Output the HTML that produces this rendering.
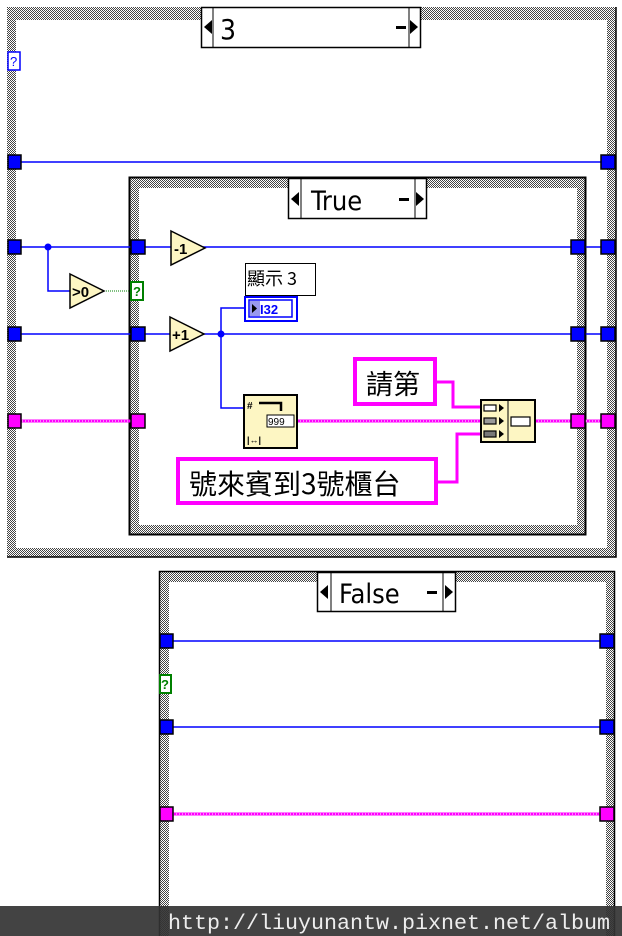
<!DOCTYPE html>
<html><head><meta charset="utf-8"><style>
html,body{margin:0;padding:0;background:#fff;width:622px;height:936px;overflow:hidden}
svg{display:block}
</style></head><body>
<svg width="622" height="936" viewBox="0 0 622 936" xmlns="http://www.w3.org/2000/svg" font-family="Liberation Sans, Noto Sans CJK TC, sans-serif">
<defs>
<pattern id="h" width="2" height="2" patternUnits="userSpaceOnUse">
<rect width="2" height="2" fill="#fff"/><rect width="1" height="1" fill="#444"/><rect x="1" y="1" width="1" height="1" fill="#444"/>
</pattern>
</defs>

<path d="M7 7H616V557H7Z M16 20V548H607V20Z" fill="url(#h)" fill-rule="evenodd"/>
<path d="M616 7V557H7" fill="none" stroke="#000" stroke-width="1.5"/>
<rect x="201.5" y="7.5" width="219" height="40" fill="#fff" stroke="#000" stroke-width="1.5"/>
<line x1="213" y1="8" x2="213" y2="47" stroke="#000"/><line x1="409" y1="8" x2="409" y2="47" stroke="#000"/>
<polygon points="204,27 212,20 212,34" fill="#000"/><polygon points="418,27 410,20 410,34" fill="#000"/>
<rect x="396" y="26" width="10" height="3" fill="#000"/>
<text x="220" y="39" font-size="28" style="font-family:'DejaVu Sans Condensed','DejaVu Sans',sans-serif">3</text>
<rect x="8" y="52" width="12" height="18" fill="#fff" stroke="#0000ff" stroke-width="1.5"/>
<text x="10" y="66" font-size="13" fill="#0000ff">?</text>

<path d="M129 177H586V535H129Z M139 188V525H577V188Z" fill="url(#h)" fill-rule="evenodd"/>
<rect x="129.5" y="177.5" width="456" height="357" fill="none" stroke="#000" stroke-width="2"/>
<rect x="288.5" y="178.5" width="138" height="40" fill="#fff" stroke="#000" stroke-width="1.5"/>
<line x1="301" y1="179" x2="301" y2="218" stroke="#000"/><line x1="415" y1="179" x2="415" y2="218" stroke="#000"/>
<polygon points="291,199 299,192 299,206" fill="#000"/><polygon points="424,199 416,192 416,206" fill="#000"/>
<rect x="399" y="198" width="10" height="3" fill="#000"/>
<text x="311" y="210" font-size="27" style="font-family:'DejaVu Sans Condensed','DejaVu Sans',sans-serif">True</text>

<g stroke="#0000ff" stroke-width="1.5" fill="none">
<line x1="16" y1="162" x2="607" y2="162"/>
<line x1="16" y1="247" x2="607" y2="247"/>
<line x1="16" y1="334" x2="607" y2="334"/>
<path d="M48 247V291H70"/>
<path d="M221 334V308H245"/>
<path d="M221 334V408H244"/>
</g>
<circle cx="48" cy="247" r="3.5" fill="#0000ff"/>
<circle cx="221" cy="334" r="3.5" fill="#0000ff"/>
<line x1="104" y1="291" x2="131" y2="291" stroke="#008000" stroke-width="1" stroke-dasharray="1,1"/>

<g stroke="#ff00ff" stroke-width="3" fill="none">
<line x1="16" y1="421" x2="131" y2="421"/>
<line x1="297" y1="421" x2="480" y2="421"/>
<line x1="535" y1="421" x2="607" y2="421"/>
<path d="M436 382H453V407H480"/>
<path d="M437 482H457V434H480"/>
</g>
<g stroke="#fff" stroke-width="1" fill="none" stroke-dasharray="1,2">
<line x1="16" y1="421" x2="131" y2="421"/>
<line x1="297" y1="421" x2="480" y2="421"/>
<line x1="535" y1="421" x2="607" y2="421"/>
</g>

<g stroke="#000" stroke-width="1.5">
<rect x="8" y="155" width="13" height="14" fill="#0000ff"/>
<rect x="601" y="155" width="14" height="14" fill="#0000ff"/>
<rect x="8" y="240" width="13" height="14" fill="#0000ff"/>
<rect x="601" y="240" width="14" height="14" fill="#0000ff"/>
<rect x="8" y="327" width="13" height="14" fill="#0000ff"/>
<rect x="601" y="327" width="14" height="14" fill="#0000ff"/>
<rect x="8" y="414" width="13" height="14" fill="#ff00ff"/>
<rect x="601" y="414" width="14" height="14" fill="#ff00ff"/>
<rect x="131" y="240" width="14" height="14" fill="#0000ff"/>
<rect x="571" y="240" width="14" height="14" fill="#0000ff"/>
<rect x="131" y="327" width="14" height="14" fill="#0000ff"/>
<rect x="571" y="327" width="14" height="14" fill="#0000ff"/>
<rect x="131" y="414" width="14" height="14" fill="#ff00ff"/>
<rect x="571" y="414" width="14" height="14" fill="#ff00ff"/>
</g>
<rect x="131" y="282" width="12" height="18" fill="#fff" stroke="#008000" stroke-width="2"/>
<text x="133" y="296" font-size="13" fill="#008000" font-weight="bold">?</text>

<g fill="#fdf6c3" stroke="#000" stroke-width="1.5">
<polygon points="70,274 104,291 70,308"/>
<polygon points="171,231 205,248 171,265"/>
<polygon points="170,317 204,334 170,351"/>
</g>
<text x="72" y="297" font-size="15" font-weight="bold">&gt;0</text>
<text x="174" y="254" font-size="15" font-weight="bold">-1</text>
<text x="172" y="340" font-size="15" font-weight="bold">+1</text>

<rect x="245.5" y="263.5" width="70" height="32" fill="#fff" stroke="#000" stroke-width="1"/>
<text x="247" y="285" font-size="18" style="font-family:'Noto Sans CJK TC',sans-serif">顯示 3</text>
<rect x="245" y="297" width="52" height="24" fill="#fff" stroke="#0000ff" stroke-width="2"/>
<rect x="249" y="300" width="43" height="17" fill="none" stroke="#0000ff" stroke-width="1.5"/>
<rect x="250" y="301" width="10" height="15" fill="#9999ee"/>
<polygon points="252,304 257,308.5 252,313" fill="#000"/>
<text x="260" y="314" font-size="13" font-weight="bold" fill="#0000ff">I32</text>

<rect x="244" y="395" width="53" height="53" fill="#fdf6c3" stroke="#000" stroke-width="2"/>
<text x="247" y="409" font-size="10" font-weight="bold">#</text>
<path d="M259 403H281V411" stroke="#000" stroke-width="2.5" fill="none"/>
<rect x="267" y="415" width="27" height="12" fill="#fff" stroke="#000"/>
<text x="268" y="425" font-size="10">999</text>
<text x="247" y="443" font-size="9" font-weight="bold">|↔|</text>

<rect x="355" y="359" width="80" height="45" fill="#fff" stroke="#ff00ff" stroke-width="4"/>
<text x="366" y="394" font-size="27" style="font-family:'Noto Sans CJK TC',sans-serif">請第</text>
<rect x="178" y="459" width="258" height="44" fill="#fff" stroke="#ff00ff" stroke-width="4"/>
<text x="189" y="494" font-size="28" style="font-family:'Noto Sans CJK TC',sans-serif">號來賓到3號櫃台</text>

<rect x="481" y="400" width="54" height="42" fill="#fdf6c3" stroke="#000" stroke-width="2"/>
<line x1="508" y1="401" x2="508" y2="441" stroke="#000"/>
<g stroke="#000" stroke-width="1.2">
<rect x="484" y="405" width="12" height="6" fill="#fff"/>
<rect x="484" y="418" width="12" height="6" fill="#999"/>
<rect x="484" y="431" width="12" height="6" fill="#777"/>
<rect x="511" y="417" width="19" height="9" fill="#fff"/>
</g>
<g fill="#000"><polygon points="499,404 504,408 499,412"/><polygon points="499,417 504,421 499,425"/><polygon points="499,430 504,434 499,438"/></g>

<path d="M159 571H614V936H159Z M169 582V936H606V582Z" fill="url(#h)" fill-rule="evenodd"/>
<path d="M159.5 936V571.5H614.5V936" fill="none" stroke="#000" stroke-width="1.5"/>
<rect x="317.5" y="572.5" width="138" height="39" fill="#fff" stroke="#000" stroke-width="1.5"/>
<line x1="331" y1="573" x2="331" y2="611" stroke="#000"/><line x1="443" y1="573" x2="443" y2="611" stroke="#000"/>
<polygon points="320,592 328,585 328,599" fill="#000"/><polygon points="453,592 445,585 445,599" fill="#000"/>
<rect x="427" y="591" width="10" height="3" fill="#000"/>
<text x="339" y="603" font-size="27" style="font-family:'DejaVu Sans Condensed','DejaVu Sans',sans-serif">False</text>
<g stroke="#0000ff" stroke-width="1.5"><line x1="170" y1="641" x2="604" y2="641"/><line x1="170" y1="727" x2="604" y2="727"/></g>
<line x1="170" y1="814" x2="604" y2="814" stroke="#ff00ff" stroke-width="3"/>
<line x1="170" y1="814" x2="604" y2="814" stroke="#fff" stroke-width="1" stroke-dasharray="1,2"/>
<g stroke="#000" stroke-width="1.5">
<rect x="160" y="634" width="13" height="14" fill="#0000ff"/>
<rect x="600" y="634" width="14" height="14" fill="#0000ff"/>
<rect x="160" y="720" width="13" height="14" fill="#0000ff"/>
<rect x="600" y="720" width="14" height="14" fill="#0000ff"/>
<rect x="160" y="807" width="13" height="14" fill="#ff00ff"/>
<rect x="600" y="807" width="14" height="14" fill="#ff00ff"/>
</g>
<rect x="160" y="675" width="11" height="18" fill="#fff" stroke="#008000" stroke-width="2"/>
<text x="161" y="689" font-size="13" fill="#008000" font-weight="bold">?</text>

<rect x="0" y="906" width="622" height="30" fill="#333" opacity="0.92"/>
<text x="168" y="929" font-size="21" fill="#eee" textLength="442" lengthAdjust="spacingAndGlyphs" style="font-family:'Liberation Mono',monospace">http://liuyunantw.pixnet.net/album</text>
</svg>
</body></html>
